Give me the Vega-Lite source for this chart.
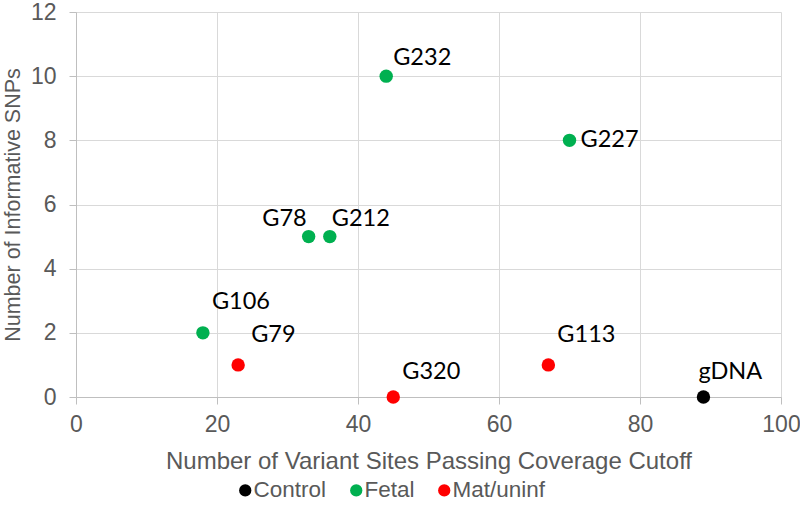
{
  "$schema": "https://vega.github.io/schema/vega-lite/v6.json",
  "width": 705,
  "height": 385,
  "autosize": {"type": "none"},
  "padding": {"left": 76, "top": 12, "right": 19, "bottom": 122},
  "background": "white",
  "config": {
    "view": {"stroke": null},
    "font": "Liberation Sans"
  },
  "data": {
    "values": [
      {"label": "G232", "sites": 44, "snps": 10, "group": "Fetal"},
      {"label": "G227", "sites": 70, "snps": 8, "group": "Fetal"},
      {"label": "G78", "sites": 33, "snps": 5, "group": "Fetal"},
      {"label": "G212", "sites": 36, "snps": 5, "group": "Fetal"},
      {"label": "G106", "sites": 18, "snps": 2, "group": "Fetal"},
      {"label": "G79", "sites": 23, "snps": 1, "group": "Mat/uninf"},
      {"label": "G320", "sites": 45, "snps": 0, "group": "Mat/uninf"},
      {"label": "G113", "sites": 67, "snps": 1, "group": "Mat/uninf"},
      {"label": "gDNA", "sites": 89, "snps": 0, "group": "Control"}
    ]
  },
  "encoding": {
    "x": {
      "field": "sites", "type": "quantitative",
      "scale": {"domain": [0, 100], "nice": false, "zero": true},
      "axis": {
        "values": [0, 20, 40, 60, 80, 100],
        "title": "Number of Variant Sites Passing Coverage Cutoff",
        "titleFont": "Liberation Sans", "titleFontSize": 24, "titleFontWeight": "normal", "titleColor": "#595959",
        "titlePadding": 13,
        "labelFont": "Liberation Sans", "labelFontSize": 23, "labelColor": "#595959", "labelPadding": 9,
        "labelFlush": false,
        "domainColor": "#BFBFBF", "tickColor": "#BFBFBF", "tickSize": 7,
        "gridColor": "#D9D9D9", "grid": true
      }
    },
    "y": {
      "field": "snps", "type": "quantitative",
      "scale": {"domain": [0, 12], "nice": false},
      "axis": {
        "values": [0, 2, 4, 6, 8, 10, 12],
        "title": "Number of Informative SNPs",
        "titleFont": "Liberation Sans", "titleFontSize": 21.5, "titleFontWeight": "normal", "titleColor": "#595959",
        "titlePadding": 6,
        "labelFont": "Liberation Sans", "labelFontSize": 23, "labelColor": "#595959", "labelPadding": 13,
        "labelFlush": false,
        "domainColor": "#BFBFBF", "tickColor": "#BFBFBF", "tickSize": 7,
        "gridColor": "#D9D9D9", "grid": true
      }
    }
  },
  "layer": [
    {
      "mark": {"type": "circle", "size": 180, "opacity": 1},
      "encoding": {
        "color": {
          "field": "group", "type": "nominal",
          "scale": {"domain": ["Control", "Fetal", "Mat/uninf"], "range": ["#000000", "#00B050", "#FF0000"]},
          "legend": {
            "orient": "none", "legendX": 158, "legendY": 467, "direction": "horizontal", "title": null,
            "labelFont": "Liberation Sans", "labelFontSize": 22.5, "labelColor": "#595959",
            "symbolType": "circle", "symbolSize": 150, "symbolOpacity": 1,
            "columnPadding": 18, "labelOffset": -3
          }
        }
      }
    },
    {"transform": [{"filter": "datum.label == 'G232'"}], "mark": {"type": "text", "align": "left", "baseline": "middle", "dx": 7, "dy": -18, "font": "Lato", "fontSize": 23.5, "color": "#000000"}, "encoding": {"text": {"field": "label"}}},
    {"transform": [{"filter": "datum.label == 'G227'"}], "mark": {"type": "text", "align": "left", "baseline": "middle", "dx": 11, "dy": 0, "font": "Lato", "fontSize": 23.5, "color": "#000000"}, "encoding": {"text": {"field": "label"}}},
    {"transform": [{"filter": "datum.label == 'G78'"}], "mark": {"type": "text", "align": "right", "baseline": "middle", "dx": -2, "dy": -18, "font": "Lato", "fontSize": 23.5, "color": "#000000"}, "encoding": {"text": {"field": "label"}}},
    {"transform": [{"filter": "datum.label == 'G212'"}], "mark": {"type": "text", "align": "left", "baseline": "middle", "dx": 2, "dy": -18, "font": "Lato", "fontSize": 23.5, "color": "#000000"}, "encoding": {"text": {"field": "label"}}},
    {"transform": [{"filter": "datum.label == 'G106'"}], "mark": {"type": "text", "align": "left", "baseline": "middle", "dx": 9, "dy": -31, "font": "Lato", "fontSize": 23.5, "color": "#000000"}, "encoding": {"text": {"field": "label"}}},
    {"transform": [{"filter": "datum.label == 'G79'"}], "mark": {"type": "text", "align": "left", "baseline": "middle", "dx": 13, "dy": -30, "font": "Lato", "fontSize": 23.5, "color": "#000000"}, "encoding": {"text": {"field": "label"}}},
    {"transform": [{"filter": "datum.label == 'G320'"}], "mark": {"type": "text", "align": "left", "baseline": "middle", "dx": 9, "dy": -25, "font": "Lato", "fontSize": 23.5, "color": "#000000"}, "encoding": {"text": {"field": "label"}}},
    {"transform": [{"filter": "datum.label == 'G113'"}], "mark": {"type": "text", "align": "left", "baseline": "middle", "dx": 9, "dy": -30, "font": "Lato", "fontSize": 23.5, "color": "#000000"}, "encoding": {"text": {"field": "label"}}},
    {"transform": [{"filter": "datum.label == 'gDNA'"}], "mark": {"type": "text", "align": "left", "baseline": "middle", "dx": -5, "dy": -25, "font": "Lato", "fontSize": 23.5, "color": "#000000"}, "encoding": {"text": {"field": "label"}}}
  ]
}
